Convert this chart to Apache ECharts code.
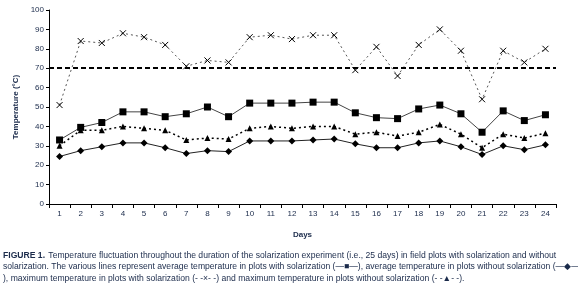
<!DOCTYPE html>
<html><head><meta charset="utf-8">
<script src="https://cdn.jsdelivr.net/npm/echarts@6/dist/echarts.min.js"></script>
<style>html,body{margin:0;padding:0;background:#fff}#c{width:578px;height:292px}</style>
</head><body><div id="c"></div>
<script>
var days = ['1','2','3','4','5','6','7','8','9','10','11','12','13','14','15','16','17','18','19','20','21','22','23','24'];
var maxSolar = [51,84,83,88,86,82,71,74,73,86,87,85,87,87,69,81,66,82,90,79,54,79,73,80];
var avgSolar = [33,39.5,42,47.5,47.5,45,46.5,50,45,52,52,52,52.5,52.5,47,44.5,44,49,51,46.5,37,48,43,46];
var maxNoSolar = [30,38,38,40,39,38,33,34,33.5,39,40,39,40,40,36,37,35,37,41,36,29,36,34,36.5];
var avgNoSolar = [24.5,27.5,29.5,31.5,31.5,29,26,27.5,27,32.5,32.5,32.5,33,33.5,31,29,29,31.5,32.5,29.5,25.5,30,28,30.5];
var threshold = 70;
var yTicks = [0,10,20,30,40,50,60,70,80,90,100];

var FONT = '"Liberation Sans Narrow","Arial Narrow","Liberation Sans",sans-serif';
var CF = 8.6;
var chart = echarts.init(document.getElementById('c'));
var X = 'path://M0,0L10,10M10,0L0,10';
chart.setOption({
  animation:false,
  grid:{left:49,right:22,top:10,bottom:88},
  xAxis:{type:'category',data:days,boundaryGap:true,
    axisLine:{lineStyle:{color:'#000',width:1}},
    axisTick:{show:true,length:4,lineStyle:{color:'#000'}},
    axisLabel:{color:'#1a2a4a',fontSize:8,fontFamily:FONT,margin:6},
    name:'Days',nameLocation:'middle',nameGap:27,
    nameTextStyle:{color:'#1a2a4a',fontSize:8,fontWeight:'bold',fontFamily:FONT}},
  yAxis:{type:'value',min:0,max:100,interval:10,
    axisLine:{show:true,lineStyle:{color:'#000',width:1}},
    axisTick:{show:true,length:3,lineStyle:{color:'#000'}},
    splitLine:{show:false},
    axisLabel:{color:'#1a2a4a',fontSize:8,fontFamily:FONT,margin:5,
      formatter:function(v){return yTicks.indexOf(v)>=0?String(v):'';}},
    name:'Temperature (°C)',nameLocation:'middle',nameGap:19,
    nameTextStyle:{color:'#1a2a4a',fontSize:8,fontWeight:'bold',fontFamily:FONT}},
  series:[
    {name:'maxSolar',type:'line',data:maxSolar,symbol:X,symbolSize:6,
      lineStyle:{color:'#555',width:1,type:[2,3]},
      itemStyle:{color:'#fff',borderColor:'#000',borderWidth:1},
      markLine:{silent:true,symbol:'none',label:{show:false},
        lineStyle:{color:'#000',width:2,type:[5,3]},data:[{yAxis:threshold}]}},
    {name:'avgSolar',type:'line',data:avgSolar,symbol:'rect',symbolSize:7,
      lineStyle:{color:'#444',width:1},itemStyle:{color:'#000'}},
    {name:'maxNoSolar',type:'line',data:maxNoSolar,symbol:'triangle',symbolSize:6,
      lineStyle:{color:'#000',width:1.5,type:[2,3]},itemStyle:{color:'#000'}},
    {name:'avgNoSolar',type:'line',data:avgNoSolar,symbol:'diamond',symbolSize:7,
      lineStyle:{color:'#222',width:1},itemStyle:{color:'#000'}}
  ],
  graphic:[
    {type:'text',left:3,top:250,style:{
      rich:{b:{fontWeight:'bold',fontSize:CF,fontFamily:FONT,fill:'#1a2a4a'},n:{fontSize:CF,fontFamily:FONT,fill:'#1a2a4a'}},
      text:'{b|FIGURE 1.} {n|Temperature fluctuation throughout the duration of the solarization experiment (i.e., 25 days) in field plots with solarization and without}'}},
    {type:'text',left:3,top:262,style:{font:CF+'px '+FONT,fill:'#1a2a4a',
      text:'solarization. The various lines represent average temperature in plots with solarization (—■—), average temperature in plots without solarization (—◆—'}},
    {type:'text',left:3,top:274,style:{font:CF+'px '+FONT,fill:'#1a2a4a',
      text:'), maximum temperature in plots with solarization (- -×- -) and maximum temperature in plots without solarization (- -▲- -).'}}
  ]
});
</script></body></html>
